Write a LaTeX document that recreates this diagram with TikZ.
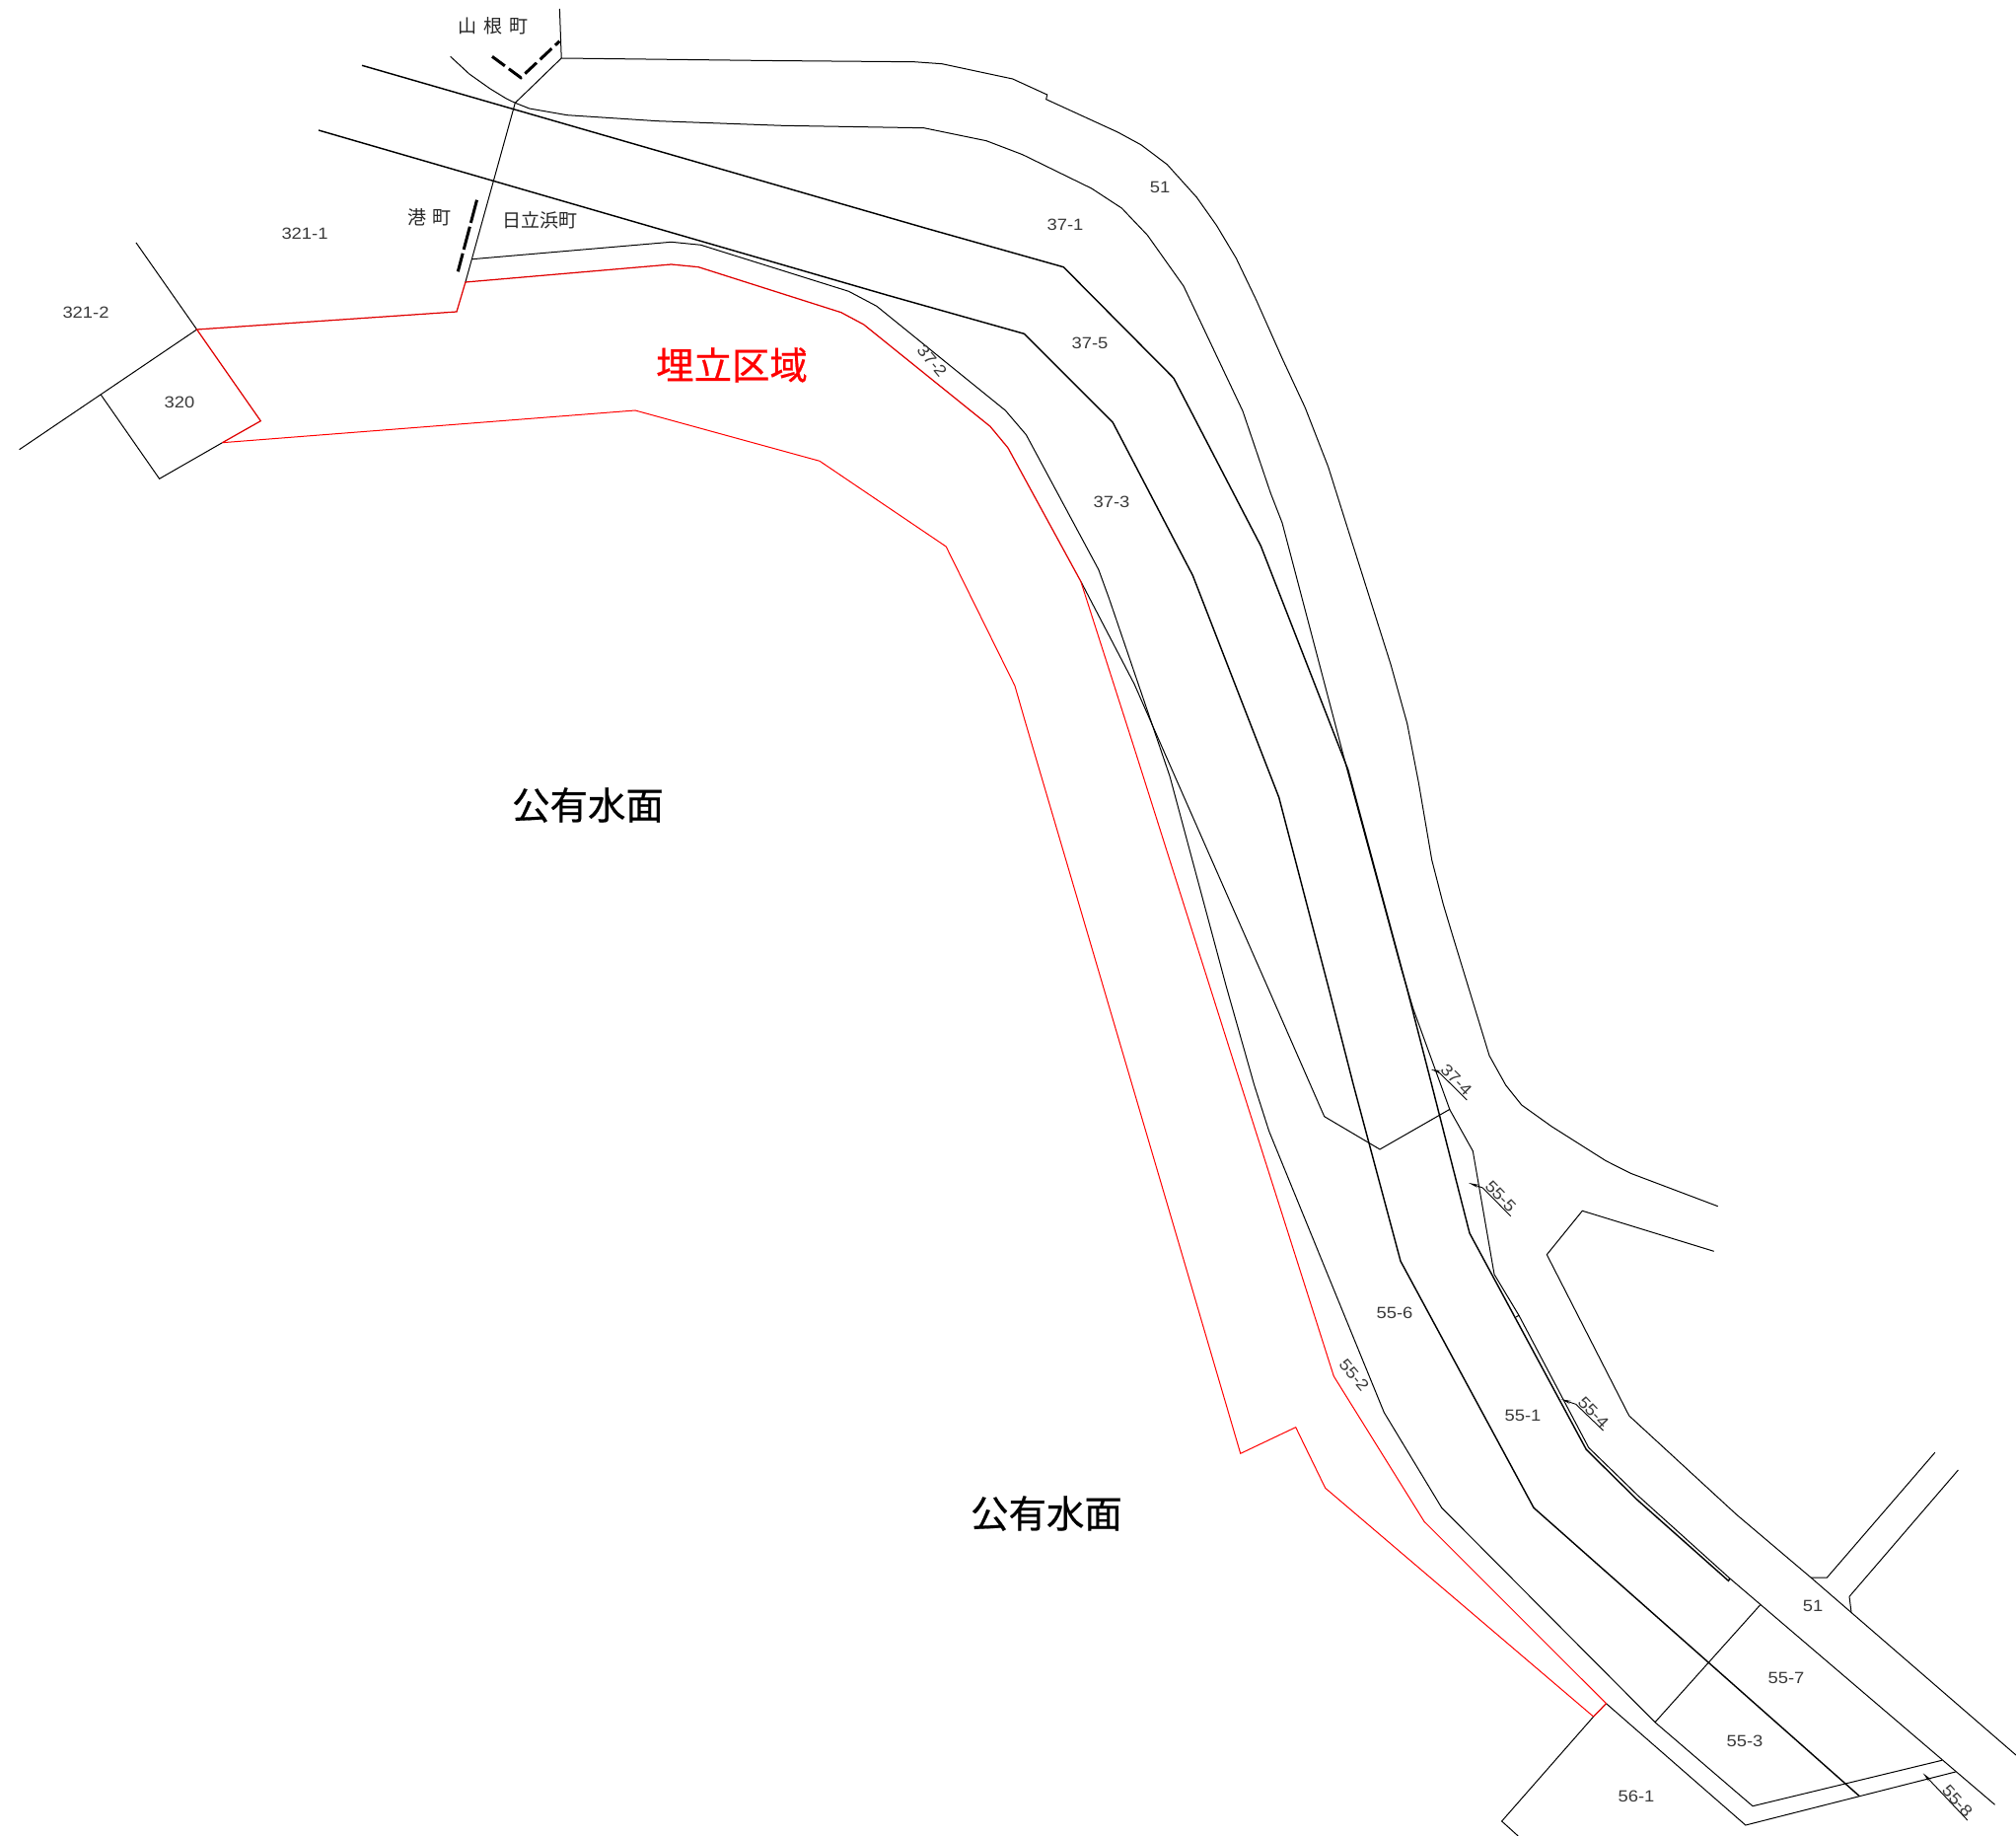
\documentclass[tikz,border=0pt]{standalone}
\usepackage{fontspec}
\setmainfont[FakeStretch=1.12]{Liberation Sans}
\newfontfamily\jpfont{Noto Sans CJK JP}
\newfontfamily\jpbold[FakeBold=0.5]{Noto Sans CJK JP}
\usetikzlibrary{arrows.meta}
\definecolor{lbl}{HTML}{3A3A3A}
\tikzset{
  thinl/.style={draw=black,line width=0.5pt,line join=miter},
  thickl/.style={draw=black,line width=0.72pt,line join=miter},
  redup/.style={draw=red!88!black,line width=0.62pt},
  redlo/.style={draw=red,line width=0.5pt},
  bound/.style={draw=black,line width=1.5pt,dash pattern=on 8pt off 2.5pt},
  boundlong/.style={draw=black,line width=1.5pt,dash pattern=on 12pt off 2pt},
  leader/.style={draw=black,line width=0.45pt,{Stealth[length=5pt,width=1.6pt]}-},
  num/.style={text=lbl,font=\fontsize{8.2}{9}\selectfont,inner sep=0pt},
  town/.style={text=black!85,font=\jpfont\fontsize{9.5}{11}\selectfont,inner sep=0pt},
  big/.style={text=black,font=\jpbold\fontsize{19.2}{21}\selectfont,inner sep=0pt},
  bigred/.style={text=red,font=\jpbold\fontsize{19.2}{21}\selectfont,inner sep=0pt},
}
\begin{document}
\begin{tikzpicture}[x=0.5pt,y=-0.5pt]
\useasboundingbox (0,0) rectangle (2044,1861);
\fill[white] (0,0) rectangle (2044,1861);
% top-left boundaries
\draw[thinl] (567.4,9) -- (569.2,59) -- (522.3,104.3) -- (471.9,286);
\draw[thinl] (138,246) -- (199.6,334) -- (19.6,455.7);
\draw[thinl] (102.2,400) -- (161.6,485.3) -- (225.4,448.7);
% road outer edge
\draw[thinl] (569.2,59) -- (782,61.5) -- (926.7,62.7) -- (955,64.7) -- (1026.7,80) -- (1061.7,96) -- (1060.7,100.7) -- (1133.3,134) -- (1156.7,146.7) -- (1183.3,166.7) -- (1213.3,200) -- (1233.3,228.3) -- (1253.3,261.7) -- (1273.3,303.3) -- (1300,363.3) -- (1323.3,413.3) -- (1346.7,473.3) -- (1366.7,536.7) -- (1410,673.3) -- (1426.7,733.3) -- (1438.3,793.3) -- (1451.7,871.7) -- (1463.3,916.7) -- (1473.3,950) -- (1510,1070) -- (1526.7,1100) -- (1542.7,1120) -- (1573,1141.7) -- (1628.3,1176.7) -- (1653.3,1189.3) -- (1741.7,1222.7);
% road inner edge
\draw[thinl] (456.7,57.3) -- (475.8,75) -- (497,90) -- (513.4,100) -- (522.3,104.3) -- (536.7,110) -- (575,116.7) -- (666.7,122.7) -- (793,127.3) -- (936.7,129.7) -- (1000,142.7) -- (1036.7,156.7) -- (1106.7,191) -- (1137.3,211) -- (1163.3,238.3) -- (1200,290) -- (1260,416.7) -- (1288.3,500) -- (1300,530) -- (1366.7,783.3) -- (1421,983) -- (1433,1023) -- (1470,1125) -- (1493.3,1166.7) -- (1515,1291.7) -- (1540,1333.3) -- (1610.7,1467.3) -- (1661.5,1516.7) -- (1754,1600) -- (2022.6,1829.3);
% parcel lines (heavier)
\draw[thickl] (367,66.3) -- (940,231.7) -- (1078.3,270.7) -- (1190,383.3) -- (1278.3,553.3) -- (1366.7,780) -- (1426,1000) -- (1451.7,1100) -- (1490,1250) -- (1608.3,1469.3) -- (1659.7,1520) -- (1752.4,1602.3) -- (1754,1600);
\draw[thickl] (323,132) -- (900,299.3) -- (1038.3,338.3) -- (1128.3,428.3) -- (1209.3,583.3) -- (1296.7,808.3) -- (1346.7,1000) -- (1372.3,1100) -- (1420,1278.3) -- (1555,1528.3) -- (1885.4,1820.7);
% thin parcel line
\draw[thinl] (478.6,262.7) -- (680.6,245.3) -- (710.5,248.3) -- (860.5,295.3) -- (888.8,310.3) -- (1019.3,416) -- (1040.4,440.7) -- (1113.8,577.3) -- (1124.5,606.7) -- (1186,786.7) -- (1243.3,1000) -- (1271.7,1100) -- (1286.7,1146.7) -- (1403.3,1431.7) -- (1461.7,1528.3) -- (1678,1745.7) -- (1777,1830.7) -- (1968.8,1784.3);
\draw[thinl] (1095.8,589.3) -- (1150,693.3) -- (1285,1000) -- (1342.7,1131.7) -- (1399,1165) -- (1470,1124.3);
% branch roads
\draw[thinl] (1737.7,1268.3) -- (1604.3,1227.3) -- (1568.3,1271.7) -- (1651.7,1435) -- (1760.4,1535) -- (1836,1599) -- (2044,1779);
\draw[thinl] (1836,1599) -- (1852.4,1599) -- (1961.8,1472.3);
\draw[thinl] (1985.4,1490) -- (1875,1618.3) -- (1877,1634.3);
\draw[thinl] (1784.7,1626.7) -- (1678,1745.7);
\draw[thinl] (1628.5,1726.7) -- (1769.8,1850) -- (1982.6,1796);
\draw[thinl] (1615.6,1740) -- (1522.6,1846) -- (1539.2,1861);
\draw[thinl] (1540,1333.3) -- (1537,1335);
% red reclamation area
\draw[redlo] (225.4,448.7) -- (644,416) -- (831,467.3) -- (959.2,554) -- (1028.9,695) -- (1039,730) -- (1200,1276.7) -- (1257.7,1473.3) -- (1313.7,1446.7) -- (1343.7,1508.3) -- (1615.6,1740);
\draw[redlo] (1095.8,589.3) -- (1150,758.3) -- (1258.3,1100) -- (1352.3,1395) -- (1444,1542.3) -- (1628.5,1726.7);
\draw[redup] (225.4,448.7) -- (264.3,426.7) -- (199.6,334) -- (463,316) -- (471.9,286) -- (680.6,268) -- (708.2,270.7) -- (852.8,316.7) -- (875.8,329) -- (1004,432.3) -- (1022,454) -- (1095.8,589.3);
\draw[redup] (1628.5,1726.7) -- (1615.6,1740);
% town boundaries
\draw[bound] (499,57.3) -- (528,78.7) -- (567.4,41.7);
\draw[boundlong] (483.5,202.7) -- (464.3,275.3);
% leaders
\draw[leader] (1450.7,1084) -- (1458,1086) -- (1487.3,1115);
\draw[leader] (1489,1199) -- (1503.3,1204) -- (1531.7,1232.7);
\draw[leader] (1582.7,1418.3) -- (1597.7,1423.3) -- (1625.5,1450);
\draw[leader] (1949.7,1797.3) -- (1994.8,1845);
% labels
\node[num] (n51a) at (1176,190) {51};
\node[num] (n371) at (1080,228) {37-1};
\node[num] (n375) at (1105,348) {37-5};
\node[num] (n373) at (1127,508.5) {37-3};
\node[num] (n3211) at (309,237) {321-1};
\node[num] (n3212) at (87,317) {321-2};
\node[num] (n320) at (182,408) {320};
\node[num,rotate=-50] (n372) at (945,366) {37-2};
\node[num,rotate=-45] (n374) at (1476.5,1094.5) {37-4};
\node[num,rotate=-46] (n555) at (1521.5,1212.5) {55-5};
\node[num,rotate=-46] (n554) at (1615.5,1431.5) {55-4};
\node[num,rotate=-50] (n552) at (1373,1394) {55-2};
\node[num] (n556) at (1414,1331) {55-6};
\node[num] (n551) at (1544,1435) {55-1};
\node[num] (n51b) at (1838,1628) {51};
\node[num] (n557) at (1811,1701) {55-7};
\node[num] (n553) at (1769,1765) {55-3};
\node[num] (n561) at (1659,1821) {56-1};
\node[num,rotate=-48] (n558) at (1984.5,1825.5) {55-8};
\node[town] (yama) at (500,26) {山\hspace{3.5pt}根\hspace{3.5pt}町};
\node[town] (minato) at (435.5,220) {港\hspace{3.5pt}町};
\node[town] (hitachi) at (547.5,223) {日立浜町};
\node[bigred] (umetate) at (742,370) {埋立区域};
\node[big] (koyu1) at (596,816) {公有水面};
\node[big] (koyu2) at (1061,1534) {公有水面};
\end{tikzpicture}
\end{document}
